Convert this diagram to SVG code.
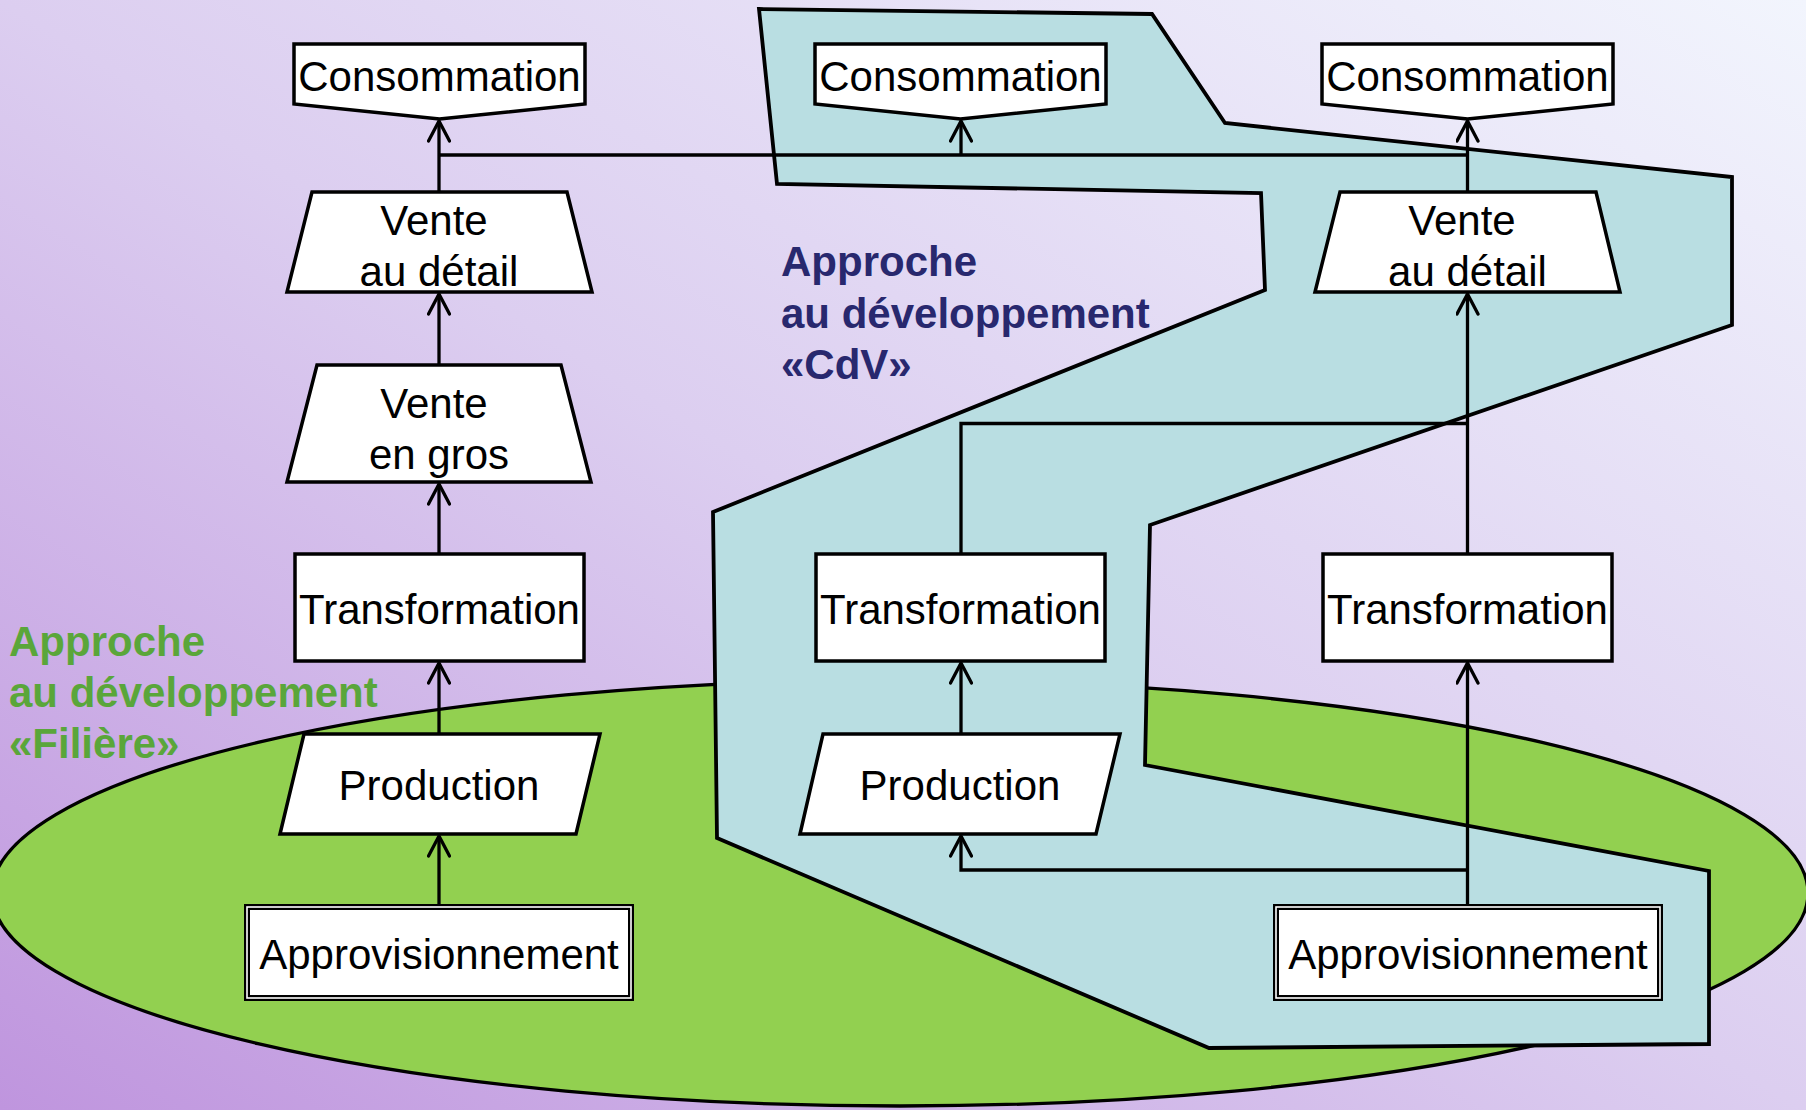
<svg xmlns="http://www.w3.org/2000/svg" width="1806" height="1110" viewBox="0 0 1806 1110">
<defs>
<linearGradient id="bg" x1="0" y1="1" x2="1" y2="0">
<stop offset="0" stop-color="#BF95DE"/>
<stop offset="0.5" stop-color="#DCCEF0"/>
<stop offset="1" stop-color="#F2F5FD"/>
</linearGradient>
<marker id="arr" viewBox="0 0 24 24" refX="22" refY="12" markerWidth="24" markerHeight="24" markerUnits="userSpaceOnUse" orient="auto">
<path d="M2,1.5 L22,12 L2,22.5" fill="none" stroke="#000" stroke-width="3.3" stroke-linejoin="round" stroke-linecap="round"/>
</marker>
<style>
.node{fill:#fff;stroke:#000;stroke-width:3.5;stroke-linejoin:miter}
.t{font-family:"Liberation Sans",Arial,sans-serif;font-size:42px;fill:#000;text-anchor:middle}
.lbl{font-family:"Liberation Sans",Arial,sans-serif;font-size:42px;font-weight:bold}
.edge{fill:none;stroke:#000;stroke-width:3.3}
.dbl-o{fill:#fff;stroke:#000;stroke-width:6}
.dbl-i{fill:none;stroke:#fff;stroke-width:1.6}
</style>
</defs>
<rect x="0" y="0" width="1806" height="1110" fill="url(#bg)"/>
<g id="zone-filiere">
<ellipse cx="900" cy="893" rx="908" ry="213" fill="#92D050" stroke="#000" stroke-width="3.3"/>
</g>
<g id="zone-cdv">
<polygon points="759,9 1152,14 1225,123 1732,177 1732,325 1150,525 1145,765 1709,871 1709,1044 1209,1048 717,838 713,512 1265,290 1261,193 777,184" fill="#B9DEE2" stroke="#000" stroke-width="3.8" stroke-linejoin="miter"/>
</g>
<g id="connectors">
<path class="edge" d="M439,904 V836" marker-end="url(#arr)"/>
<path class="edge" d="M439,734 V663" marker-end="url(#arr)"/>
<path class="edge" d="M439,554 V484" marker-end="url(#arr)"/>
<path class="edge" d="M439,365 V294" marker-end="url(#arr)"/>
<path class="edge" d="M439,191 V121" marker-end="url(#arr)"/>
<path class="edge" d="M439,155 H1467.5"/>
<path class="edge" d="M961,155 V121" marker-end="url(#arr)"/>
<path class="edge" d="M1467.5,191 V121" marker-end="url(#arr)"/>
<path class="edge" d="M1467.5,554 V294" marker-end="url(#arr)"/>
<path class="edge" d="M961,554 V423.5 H1467.5"/>
<path class="edge" d="M961,734 V663" marker-end="url(#arr)"/>
<path class="edge" d="M1467.5,904 V663" marker-end="url(#arr)"/>
<path class="edge" d="M1467.5,870 H961 V836" marker-end="url(#arr)"/>
</g>
<g id="consommation-1">
<path class="node" d="M294,44 H585 V104 L439.5,119 L294,104 Z"/>
<text class="t" x="439.5" y="91">Consommation</text>
</g>
<g id="consommation-2">
<path class="node" d="M815,44 H1106 V104 L960.5,119 L815,104 Z"/>
<text class="t" x="960.5" y="91">Consommation</text>
</g>
<g id="consommation-3">
<path class="node" d="M1322,44 H1613 V104 L1467.5,119 L1322,104 Z"/>
<text class="t" x="1467.5" y="91">Consommation</text>
</g>
<g id="vente-detail-1">
<path class="node" d="M312,192 H567 L592,292 H287 Z"/>
<text class="t" x="434" y="235">Vente</text>
<text class="t" x="439" y="286">au détail</text>
</g>
<g id="vente-detail-2">
<path class="node" d="M1340,192 H1596 L1620,292 H1315 Z"/>
<text class="t" x="1462" y="235">Vente</text>
<text class="t" x="1467.5" y="286">au détail</text>
</g>
<g id="vente-gros">
<path class="node" d="M317,365 H561 L591,482 H287 Z"/>
<text class="t" x="434" y="418">Vente</text>
<text class="t" x="439" y="469">en gros</text>
</g>
<g id="transformation-1">
<rect class="node" x="295" y="554" width="289" height="107"/>
<text class="t" x="439.5" y="624">Transformation</text>
</g>
<g id="transformation-2">
<rect class="node" x="816" y="554" width="289" height="107"/>
<text class="t" x="960.5" y="624">Transformation</text>
</g>
<g id="transformation-3">
<rect class="node" x="1323" y="554" width="289" height="107"/>
<text class="t" x="1467.5" y="624">Transformation</text>
</g>
<g id="production-1">
<path class="node" d="M304,734 H600 L576,834 H280 Z"/>
<text class="t" x="439" y="800">Production</text>
</g>
<g id="production-2">
<path class="node" d="M823,734 H1120 L1096,834 H800 Z"/>
<text class="t" x="960" y="800">Production</text>
</g>
<g id="approvisionnement-1">
<rect class="dbl-o" x="247" y="907" width="384" height="91"/>
<rect class="dbl-i" x="247" y="907" width="384" height="91"/>
<text class="t" x="439" y="969">Approvisionnement</text>
</g>
<g id="approvisionnement-2">
<rect class="dbl-o" x="1276" y="907" width="384" height="91"/>
<rect class="dbl-i" x="1276" y="907" width="384" height="91"/>
<text class="t" x="1468" y="969">Approvisionnement</text>
</g>
<g id="label-cdv" class="lbl" fill="#28286E">
<text x="781" y="276">Approche</text>
<text x="781" y="328">au développement</text>
<text x="781" y="379">«CdV»</text>
</g>
<g id="label-filiere" class="lbl" fill="#5AA63A">
<text x="9" y="656">Approche</text>
<text x="9" y="707">au développement</text>
<text x="9" y="758">«Filière»</text>
</g>
</svg>
